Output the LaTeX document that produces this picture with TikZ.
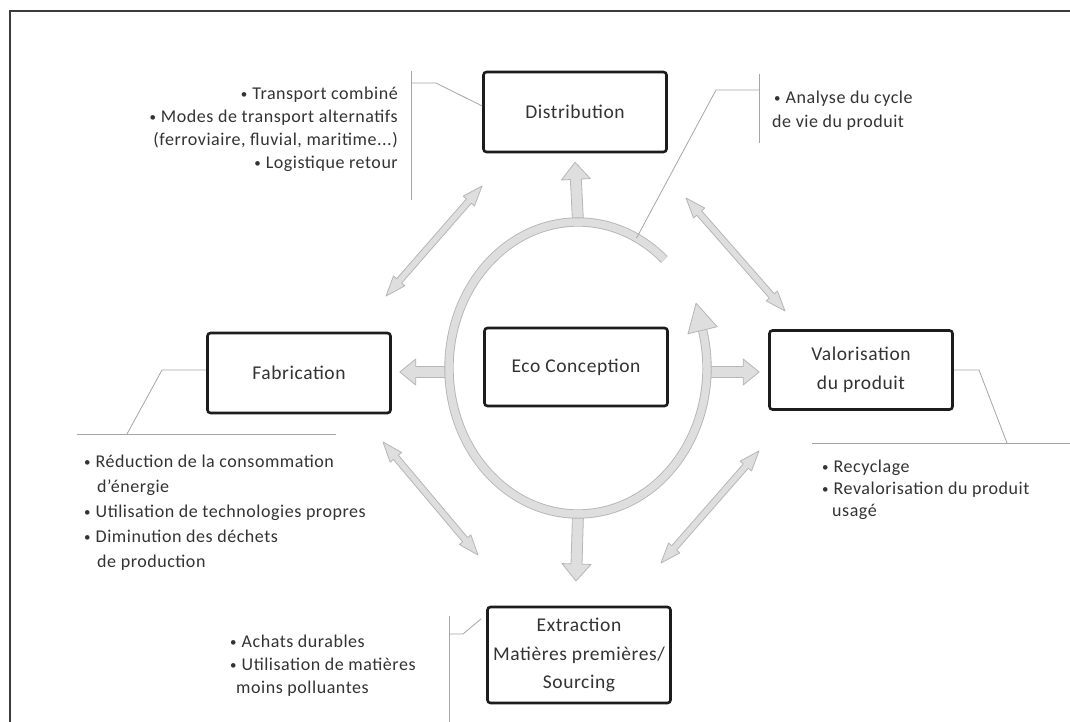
\documentclass[tikz,border=0pt]{standalone}
\usepackage{fontspec}
\setmainfont{Carlito}[LetterSpace=3]
\usetikzlibrary{calc}

\definecolor{framecol}{HTML}{3C3C3C}
\definecolor{boxcol}{HTML}{1C1C1C}
\definecolor{txtcol}{HTML}{333333}
\definecolor{bandfill}{HTML}{DEDEDE}
\definecolor{bandedge}{HTML}{B6B6B6}
\definecolor{leadcol}{HTML}{A6A6A6}

% small list bullet
\newcommand\bul{{\fontsize{13}{13}\selectfont\raisebox{1pt}{•}}\hspace{5pt}}

\tikzset{
  stage/.style={draw=boxcol, line width=2.6pt, rounded corners=3pt, fill=white,
    minimum width=183pt, minimum height=80pt, align=center, text=txtcol,
    inner sep=0pt, font=\fontsize{19.5}{28.5}\selectfont},
  note/.style={text=txtcol, inner sep=0pt, font=\fontsize{18}{22}\selectfont},
  leader/.style={draw=leadcol, line width=0.8pt},
  arrowbody/.style={fill=bandfill, draw=bandedge, line width=0.8pt, line join=round},
  band/.style={draw=bandedge, double=bandfill, double distance=7.5pt, line width=0.9pt},
}

% single-headed block arrow: from, to, half shaft, half head, head length
\newcommand\fatarrow[5]{%
  \coordinate (tA) at (#1); \coordinate (tB) at (#2);
  \coordinate (hB) at ($(tB)!#5!(tA)$);
  \path[arrowbody] ($(tA)!#3!90:(tB)$) -- ($(hB)!#3!-90:(tA)$) -- ($(hB)!#4!-90:(tA)$)
    -- (tB) -- ($(hB)!#4!90:(tA)$) -- ($(hB)!#3!90:(tA)$) -- ($(tA)!#3!-90:(tB)$) -- cycle;}

% double-headed arrow: end, end, half shaft, half head, head length
\newcommand\twinarrow[5]{%
  \coordinate (tA) at (#1); \coordinate (tB) at (#2);
  \coordinate (hA) at ($(tA)!#5!(tB)$); \coordinate (hB) at ($(tB)!#5!(tA)$);
  \path[arrowbody] (tA) -- ($(hA)!#4!90:(tB)$) -- ($(hA)!#3!90:(tB)$)
    -- ($(hB)!#3!-90:(tA)$) -- ($(hB)!#4!-90:(tA)$) -- (tB)
    -- ($(hB)!#4!90:(tA)$) -- ($(hB)!#3!90:(tA)$)
    -- ($(hA)!#3!-90:(tB)$) -- ($(hA)!#4!-90:(tB)$) -- cycle;}

\begin{document}
\begin{tikzpicture}[x=1pt, y=-1pt]
\useasboundingbox (0,0) rectangle (1070,722);
\fill[white] (0,0) rectangle (1070,722);

% page frame
\draw[framecol, line width=1.6pt] (10,722) -- (10,11) -- (1070,11);

% stages
\node[stage] (dist) at (575,112) {Distribution};
\node[stage] (fab)  at (299,373) {Fabrication};
\node[stage, minimum height=78pt] (eco) at (576,367) {Eco Conception};
\node[stage, minimum height=79pt] (valo) at (861,370) {Valorisation\\du produit};
\node[stage, minimum height=96pt] (extr) at (579,655) {Extraction\\Matières premières/\\Sourcing};

% points on the ring
\coordinate (ringC) at (578,368);
\coordinate (ringN) at ($(ringC)+(90:129pt and 146pt)$);
\coordinate (ringS) at ($(ringC)+(270:129pt and 146pt)$);
\coordinate (ringW) at (450,372);
\coordinate (ringE) at (706,372);
\coordinate (ringA) at ($(ringC)+(63:129pt and 146pt)$);

% block arrows from the ring to the stages
\coordinate (upTip) at ($(dist.south)+(0,9)$);
\coordinate (lfTip) at ($(fab.east)+(8,-1)$);
\coordinate (rtTip) at ($(valo.west)+(-9,2)$);
\coordinate (dnTip) at (576,581);
\fatarrow{ringN}{upTip}{5.5pt}{14.5pt}{17pt}
\fatarrow{ringW}{lfTip}{5.5pt}{13pt}{16pt}
\fatarrow{ringE}{rtTip}{5.5pt}{13pt}{16pt}
\fatarrow{ringS}{dnTip}{5.5pt}{14.5pt}{17pt}

% diagonal links between stages
\coordinate (tlA) at (386,296); \coordinate (tlB) at (482,186);
\coordinate (trA) at (686,198); \coordinate (trB) at (785,311);
\coordinate (blA) at (383,442); \coordinate (blB) at (478,555);
\coordinate (brA) at (759,451); \coordinate (brB) at (661,563);
\twinarrow{tlA}{tlB}{3.3pt}{7.5pt}{20pt}
\twinarrow{trA}{trB}{3.3pt}{7.5pt}{20pt}
\twinarrow{blA}{blB}{3.3pt}{7.5pt}{20pt}
\twinarrow{brA}{brB}{3.3pt}{7.5pt}{20pt}

% the eco-design ring with its arrow head
\draw[band] ($(ringC)+(48:129pt and 146pt)$) arc[start angle=48, end angle=376, x radius=129pt, y radius=146pt];
\coordinate (ringBase) at ($(ringC)+(15:129pt and 146pt)$);
\coordinate (ringTip) at ($(ringBase)+(-6.5,-27)$);
\path[arrowbody] (ringTip) -- ($(ringBase)!15pt!90:(ringTip)$) -- ($(ringBase)!15pt!-90:(ringTip)$) -- cycle;

% leader lines
\draw[leader] (411,71) -- (411,200);
\draw[leader] (411,83) -- (436,83) -- ($(dist.west)+(0,-6)$);
\draw[leader] (759,74) -- (759,143);
\draw[leader] (759,90) -- (716,90) -- (ringA);
\draw[leader] (77,434) -- (336,434);
\draw[leader] (127,434) -- (162,370) -- ($(fab.west)+(0,-3)$);
\draw[leader] (valo.east) -- (979,370) -- (1007,443);
\draw[leader] (812,443) -- (1070,443);
\draw[leader] (449,616) -- (449,722);
\draw[leader] (449,634) -- (463,634) -- (481,619);

% notes: distribution
\node[note, anchor=base east] (d1) at (398,100) {\bul Transport combiné};
\node[note, anchor=base east] (d2) at (398,123) {\bul Modes de transport alternatifs};
\node[note, anchor=base east] (d3) at (398,146) {(ferroviaire, fluvial, maritime...)};
\node[note, anchor=base east] (d4) at (398,168) {\bul Logistique retour};
% notes: life-cycle analysis
\node[note, anchor=base west] (a1) at (774,104) {\bul Analyse du cycle};
\node[note, anchor=base west] (a2) at (772,128) {de vie du produit};
% notes: manufacturing
\node[note, anchor=base west] (f1) at (84,467) {\bul Réduction de la consommation};
\node[note, anchor=base west] (f2) at (97,492) {d'énergie};
\node[note, anchor=base west] (f3) at (84,517) {\bul Utilisation de technologies propres};
\node[note, anchor=base west] (f4) at (84,542) {\bul Diminution des déchets};
\node[note, anchor=base west] (f5) at (97,567) {de production};
% notes: product recovery
\node[note, anchor=base west] (v1) at (822,472) {\bul Recyclage};
\node[note, anchor=base west] (v2) at (822,494) {\bul Revalorisation du produit};
\node[note, anchor=base west] (v3) at (832,516) {usagé};
% notes: sourcing
\node[note, anchor=base west] (e1) at (230,647) {\bul Achats durables};
\node[note, anchor=base west] (e2) at (230,670) {\bul Utilisation de matières};
\node[note, anchor=base west] (e3) at (236,693) {moins polluantes};
\end{tikzpicture}
\end{document}
